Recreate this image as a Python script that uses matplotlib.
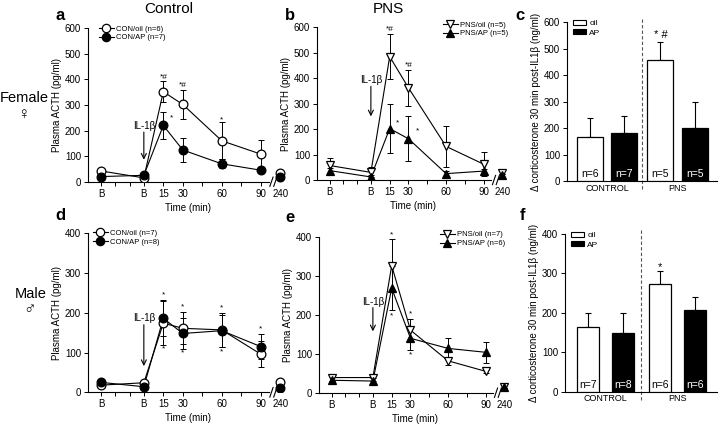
import matplotlib
matplotlib.use('Agg')
import matplotlib.pyplot as plt
import matplotlib.transforms as mtransforms
from matplotlib.lines import Line2D
from matplotlib.patches import Patch

plt.rcParams['font.family'] = ['Liberation Sans', 'DejaVu Sans']

W, H = 720, 425
fig = plt.figure(figsize=(7.2, 4.25), dpi=100)


def rect(l, t, r, b):
    return [l / W, 1 - b / H, (r - l) / W, (b - t) / H]


def ftext(x, y, s, **kw):
    fig.text(x / W, 1 - y / H, s, **kw)


# ---------------- data ----------------
time_labels = ['B', 'B', '15', '30', '60', '90', '240']

# Female, Control (a)
a_oil = [42, 15, 352, 302, 160, 108, 35]
a_oil_err = [10, 8, 40, 58, 72, 55, 6]
a_ap = [20, 25, 220, 124, 70, 45, 20]
a_ap_err = [6, 8, 52, 48, 18, 12, 5]
a_labels = ['CON/oil (n=6)', 'CON/AP (n=7)']

# Female, PNS (b)
b_oil = [57, 30, 485, 362, 132, 62, 28]
b_oil_err = [28, 20, 90, 72, 82, 48, 6]
b_ap = [37, 12, 202, 162, 25, 35, 18]
b_ap_err = [12, 8, 95, 88, 10, 10, 5]
b_labels = ['PNS/oil (n=5)', 'PNS/AP (n=5)']

# Male, Control (d)
d_oil = [18, 24, 174, 161, 157, 96, 26]
d_oil_err = [5, 6, 55, 40, 42, 32, 5]
d_ap = [25, 14, 186, 148, 155, 115, 11]
d_ap_err = [6, 5, 45, 40, 40, 32, 4]
d_labels = ['CON/oil (n=7)', 'CON/AP (n=8)']

# Male, PNS (e)
e_oil = [39, 39, 327, 161, 82, 55, 15]
e_oil_err = [8, 8, 68, 28, 10, 5, 4]
e_ap = [32, 30, 269, 140, 114, 104, 15]
e_ap_err = [8, 8, 56, 30, 27, 27, 4]
e_labels = ['PNS/oil (n=7)', 'PNS/AP (n=6)']

# Delta corticosterone bars
bar_groups = ['CONTROL', 'PNS']
bar_legend = ['oil', 'AP']
c_vals = [167, 183, 457, 200]
c_err = [72, 62, 68, 98]
c_n = ['n=6', 'n=7', 'n=5', 'n=5']
f_vals = [165, 148, 272, 207]
f_err = [34, 52, 35, 32]
f_n = ['n=7', 'n=8', 'n=6', 'n=6']

# ---------------- layout helpers ----------------
time_pos = [-33, 0, 15, 30, 60, 90, 105]
XLIM = (-43, 111)


def line_panel(r, oil, oil_err, ap, ap_err, ymax, m_oil, m_ap, labels,
               leg_anchor, il_y, arrow, stars):
    ax = fig.add_axes(rect(*r))
    for vals, err, m, fc in [(oil, oil_err, m_oil, 'white'), (ap, ap_err, m_ap, 'black')]:
        ax.errorbar(time_pos, vals, yerr=err, fmt='none', ecolor='k',
                    elinewidth=0.7, capsize=2.2, capthick=0.7, zorder=2)
        ax.plot(time_pos[:6], vals[:6], '-', color='k', lw=0.8, zorder=3)
        ax.plot(time_pos, vals, linestyle='none', marker=m, ms=6.3,
                mfc=fc, mec='k', mew=0.9, zorder=4 if fc == 'white' else 5)
    ax.set_xlim(*XLIM)
    ax.set_ylim(0, ymax)
    ax.set_yticks(range(0, ymax + 1, 100))
    ax.set_xticks(time_pos)
    ax.set_xticklabels(time_labels)
    ax.set_xticks([-22, -11, 45, 75], minor=True)
    ax.xaxis.get_major_ticks()[-1].tick1line.set_visible(False)
    ax.tick_params(axis='both', which='both', direction='out', length=3,
                   width=0.7, labelsize=7, pad=2)
    ax.spines['top'].set_visible(False)
    ax.spines['right'].set_visible(False)
    for s in ['left', 'bottom']:
        ax.spines[s].set_linewidth(0.8)
    ax.spines['bottom'].set_bounds(XLIM[0], 96)
    tr = mtransforms.blended_transform_factory(ax.transData, ax.transAxes)
    for x0 in [97, 100]:
        ax.plot([x0, x0 + 2.5], [-0.03, 0.03], color='k', lw=0.8,
                transform=tr, clip_on=False)
    ax.set_xlabel('Time (min)', fontsize=7, labelpad=3)
    ax.set_ylabel('Plasma ACTH (pg/ml)', fontsize=7, labelpad=2)
    handles = [Line2D([], [], color='k', lw=0.8, marker=m_oil, ms=6, mfc='white', mec='k', mew=0.9),
               Line2D([], [], color='k', lw=0.8, marker=m_ap, ms=6, mfc='black', mec='k', mew=0.9)]
    ax.legend(handles, labels, loc='upper left', bbox_to_anchor=leg_anchor,
              frameon=False, fontsize=5.5, handlelength=1.9, handletextpad=0.35,
              borderpad=0, borderaxespad=0, labelspacing=0.2)
    ax.text(0, il_y, 'IL-1β', fontsize=7, ha='center', va='center')
    ax.annotate('', xy=(0, arrow[1]), xytext=(0, arrow[0]),
                arrowprops=dict(arrowstyle='->', lw=0.8, color='k', mutation_scale=9,
                                shrinkA=0, shrinkB=0))
    for (x, y, s) in stars:
        ax.text(x, y, s, fontsize=6, ha='center', va='center')
    return ax


def bar_panel(r, vals, err, ns, ymax, width, star, star_y):
    ax = fig.add_axes(rect(*r))
    pos = [0.67, 1.68, 2.74, 3.76]
    colors = ['white', 'black', 'white', 'black']
    ax.bar(pos, vals, width=width, color=colors, edgecolor='k', linewidth=0.9, zorder=3)
    ax.errorbar(pos, vals, yerr=[[0] * 4, err], fmt='none', ecolor='k',
                elinewidth=0.8, capsize=2.5, capthick=0.8, zorder=2)
    for p, n, c in zip(pos, ns, colors):
        ax.text(p, ymax * 0.012, n, fontsize=7.5, ha='center', va='bottom',
                color='white' if c == 'black' else 'black', zorder=4)
    ax.set_xlim(0, 4.4)
    ax.set_ylim(0, ymax)
    ax.set_yticks(range(0, ymax + 1, 100))
    ax.set_xticks([(pos[0] + pos[1]) / 2, (pos[2] + pos[3]) / 2])
    ax.set_xticklabels(bar_groups)
    ax.tick_params(axis='x', length=0, labelsize=6.5, pad=2)
    ax.tick_params(axis='y', direction='out', length=3, width=0.7, labelsize=7, pad=2)
    ax.spines['top'].set_visible(False)
    ax.spines['right'].set_visible(False)
    for s in ['left', 'bottom']:
        ax.spines[s].set_linewidth(0.8)
    tr = mtransforms.blended_transform_factory(ax.transData, ax.transAxes)
    ax.plot([2.2, 2.2], [-0.05, 1.03], color='#555555', lw=0.8, ls=(0, (3, 2)),
            transform=tr, clip_on=False)
    ax.text(pos[2], star_y, star, fontsize=8, ha='center', va='center')
    ax.set_ylabel('Δ corticosterone 30 min post-IL1β (ng/ml)', fontsize=7, labelpad=2)
    handles = [Patch(facecolor='white', edgecolor='k', lw=0.8),
               Patch(facecolor='black', edgecolor='k', lw=0.8)]
    ax.legend(handles, bar_legend, loc='upper left', bbox_to_anchor=(0.04, 1.015),
              frameon=False, fontsize=6, handlelength=1.6, handleheight=0.55,
              handletextpad=0.35, borderpad=0, borderaxespad=0, labelspacing=0.25)
    return ax


# ---------------- panels ----------------
line_panel((88, 28.3, 288, 181.7), a_oil, a_oil_err, a_ap, a_ap_err, 600, 'o', 'o',
           a_labels, (0.055, 1.02), 218, (194, 86),
           [(15, 408, '*#'), (30, 376, '*#'), (60, 240, '*'), (21, 248, '*')])

line_panel((317, 27.3, 510, 180), b_oil, b_oil_err, b_ap, b_ap_err, 600, 'v', '^',
           b_labels, (0.653, 1.04), 392, (368, 250),
           [(15, 592, '*#'), (30, 450, '*#'), (21, 225, '*'), (37, 192, '*')])

line_panel((88, 233.3, 288, 392.3), d_oil, d_oil_err, d_ap, d_ap_err, 400, 'o', 'o',
           d_labels, (0.025, 1.025), 188, (170, 66),
           [(15, 246, '*'), (15, 110, '*'), (30, 216, '*'), (30, 98, '*'),
            (60, 212, '*'), (60, 101, '*'), (90, 160, '*')])

line_panel((319, 237.3, 512, 392.7), e_oil, e_oil_err, e_ap, e_ap_err, 400, 'v', '^',
           e_labels, (0.627, 1.04), 234, (219, 158),
           [(15, 406, '*'), (15, 197, '*'), (30, 202, '*'), (30, 97, '*')])

bar_panel((567, 22.3, 717, 181), c_vals, c_err, c_n, 600, 0.76, '* #', 552)
bar_panel((565, 234, 717, 391.7), f_vals, f_err, f_n, 400, 0.64, '*', 317)

# ---------------- figure texts ----------------
ftext(169, 9, 'Control', fontsize=11, ha='center', va='center')
ftext(388, 9, 'PNS', fontsize=11, ha='center', va='center')
ftext(24, 98, 'Female', fontsize=10.5, ha='center', va='center')
ftext(23, 114, '♀', fontsize=12, ha='center', va='center')
ftext(31, 294, 'Male', fontsize=10.5, ha='center', va='center')
ftext(30, 310, '♂', fontsize=12, ha='center', va='center')
for (x, y, s) in [(60, 15, 'a'), (290, 15, 'b'), (520, 15, 'c'),
                  (60, 216, 'd'), (290, 217, 'e'), (522, 215, 'f')]:
    ftext(x, y, s, fontsize=12, fontweight='bold', ha='center', va='center')

fig.savefig('out.png', dpi=100)
